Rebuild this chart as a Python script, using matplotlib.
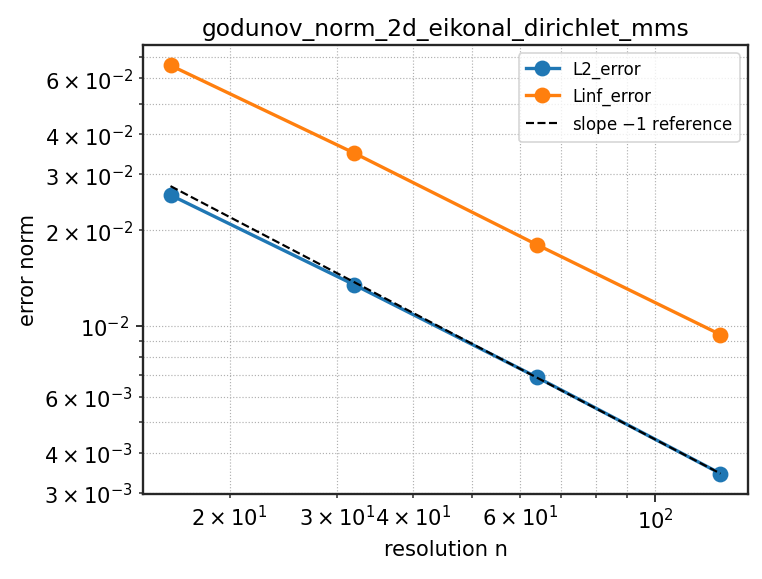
import numpy as np
import matplotlib
matplotlib.use("Agg")
import matplotlib.pyplot as plt
from matplotlib.ticker import LogFormatterSciNotation

n = [16, 32, 64, 128]
l2_error = [0.0258, 0.0135, 0.0069, 0.00344]
linf_error = [0.0659, 0.0350, 0.0180, 0.0094]

ref = [l2_error[-1] * n[-1] / v for v in n]

fig = plt.figure(figsize=(6.35, 4.8333), dpi=120)
ax = fig.add_axes([143/762, 1 - 495/580, (748-143)/762, (495-46)/580])

ax.loglog(n, l2_error, marker='o', lw=2.0, ms=8.5, color='#1f77b4', label='L2_error')
ax.loglog(n, linf_error, marker='o', lw=2.0, ms=8.5, color='#ff7f0e', label='Linf_error')
ax.loglog(n, ref, '--', color='black', lw=1.3, label='slope $-1$ reference')

ax.grid(True, which='both', ls=':', lw=0.7, color='#b0b0b0')
for s in ax.spines.values():
    s.set_color('#262626')
    s.set_linewidth(1.4)
ax.tick_params(which='both', colors='#262626', labelcolor='black', labelsize=12.6)
ax.tick_params(which='major', length=4.5, width=1.1)
ax.tick_params(which='minor', length=2.6, width=0.9)

for axis in (ax.xaxis, ax.yaxis):
    axis.set_minor_formatter(LogFormatterSciNotation(labelOnlyBase=False, minor_thresholds=(2, 0.4)))

ax.set_xlabel('resolution n', fontsize=12.6)
ax.set_ylabel('error norm', fontsize=12.6)
ax.set_title('godunov_norm_2d_eikonal_dirichlet_mms', fontsize=14)
ax.legend(loc='upper right', fontsize=10)

fig.savefig('out.png', dpi=120)
